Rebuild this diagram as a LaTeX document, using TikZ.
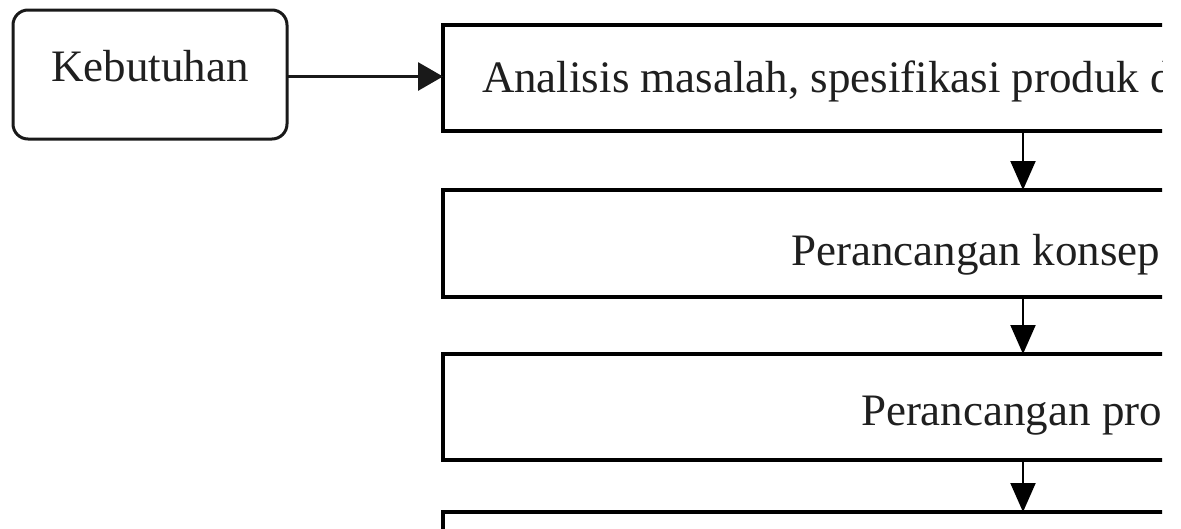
\documentclass[tikz,border=0pt]{standalone}
\usepackage{fontspec}
\setmainfont{Liberation Serif}
\usetikzlibrary{arrows.meta}
\tikzset{
  txt/.style={font=\fontsize{45pt}{54pt}\selectfont, text=black!88, inner sep=0pt, outer sep=0pt},
  rbox/.style={draw=black!90, line width=3pt, rounded corners=15pt, inner sep=0pt, outer sep=0pt,
    minimum width=274pt, minimum height=129pt, txt, text height=31pt, text depth=17pt},
  sbox/.style={draw=black, line width=4pt, inner sep=0pt, outer sep=0pt, anchor=north west,
    minimum width=860pt},
  harrow/.style={draw=black!90, line width=3pt, -{Triangle[length=25pt,width=28pt]}},
  varrow/.style={draw=black, line width=2pt, -{Triangle[length=29pt,width=25pt]}}
}
\begin{document}
\begin{tikzpicture}[x=1pt,y=-1pt]
\useasboundingbox (0,0) rectangle (1181,528);
\begin{scope}
\clip (0,0) rectangle (1162,528);
\node[rbox] (keb) at (150,74.5) {Kebutuhan};
\node[sbox, minimum height=106pt] (b1) at (443,25) {};
\node[sbox, minimum height=107pt] (b2) at (443,190) {};
\node[sbox, minimum height=106pt] (b3) at (443,354) {};
\node[sbox, minimum height=106pt] (b4) at (443,512) {};
\node[txt, anchor=base west] (t1) at (482,92.3) {Analisis masalah, spesifikasi produk d};
\node[txt, anchor=base west] (t2) at (791.5,265) {Perancangan konsep};
\node[txt, anchor=base west] (t3) at (861,425) {Perancangan pro};
\coordinate (ax) at (1023,0);
\draw[harrow] (keb.east |- 0,76.5) -- (b1.west |- 0,76.5);
\draw[varrow] (b1.south -| ax) -- (b2.north -| ax);
\draw[varrow] (b2.south -| ax) -- (b3.north -| ax);
\draw[varrow] (b3.south -| ax) -- (b4.north -| ax);
\end{scope}
\end{tikzpicture}
\end{document}
